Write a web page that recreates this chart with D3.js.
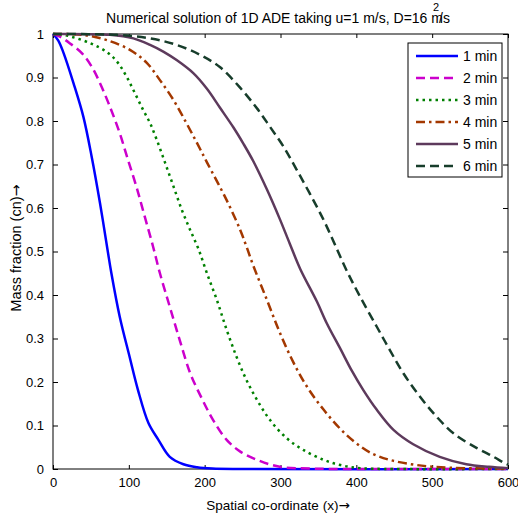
<!DOCTYPE html>
<html>
<head>
<meta charset="utf-8">
<script src="https://cdn.jsdelivr.net/npm/d3@7"></script>
<style>
  body { margin: 0; background: #fff; }
  text { font-family: "Liberation Sans", Arial, sans-serif; }
</style>
</head>
<body>
<div id="chart"></div>
<script>
// values, [x, c] pairs per curve
var min1 = [[0,1],[7,0.985],[14,0.956],[27,0.887],[40,0.81],[51,0.718],[62,0.611],[72,0.503],[77,0.45],[88,0.35],[101,0.258],[112,0.182],[126,0.105],[139,0.067],[154,0.028],[172,0.011],[190,0.004],[210,0.001],[250,0],[600,0]];
var min2 = [[0,1],[9,0.994],[22,0.979],[38,0.956],[51,0.925],[62,0.887],[75,0.833],[88,0.772],[99,0.71],[110,0.649],[121,0.58],[132,0.511],[141,0.45],[154,0.373],[167,0.297],[181,0.22],[196,0.163],[211,0.113],[229,0.067],[247,0.04],[269,0.021],[299,0.005],[340,0.001],[400,0],[600,0]];
var min3 = [[0,1],[14,0.998],[49,0.979],[73,0.956],[86,0.933],[97,0.902],[108,0.864],[119,0.825],[128,0.795],[137,0.756],[148,0.703],[159,0.649],[170,0.595],[181,0.549],[192,0.505],[203,0.45],[216,0.389],[229,0.32],[242,0.258],[255,0.205],[269,0.159],[286,0.113],[308,0.071],[330,0.044],[357,0.021],[379,0.009],[405,0.002],[450,0],[600,0]];
var min4 = [[0,1],[40,0.998],[71,0.986],[102,0.963],[124,0.933],[141,0.894],[159,0.848],[176,0.795],[190,0.749],[203,0.705],[229,0.618],[247,0.549],[255,0.512],[264,0.468],[282,0.389],[299,0.314],[317,0.245],[335,0.189],[357,0.136],[379,0.092],[398,0.062],[418,0.038],[444,0.021],[480,0.009],[524,0.003],[600,0.001]];
var min5 = [[0,1],[75,0.998],[106,0.99],[128,0.975],[146,0.959],[163,0.94],[185,0.91],[203,0.874],[220,0.831],[238,0.785],[251,0.748],[264,0.708],[282,0.643],[299,0.575],[312,0.519],[326,0.46],[348,0.385],[361,0.335],[379,0.276],[394,0.226],[409,0.182],[427,0.136],[449,0.09],[475,0.057],[510,0.028],[545,0.011],[575,0.005],[600,0.002]];
var min6 = [[0,1],[84,0.998],[128,0.99],[163,0.975],[194,0.952],[220,0.924],[247,0.876],[269,0.829],[286,0.787],[304,0.741],[321,0.689],[339,0.632],[357,0.572],[372,0.515],[387,0.457],[405,0.396],[427,0.327],[444,0.274],[462,0.22],[484,0.166],[506,0.12],[528,0.082],[559,0.048],[581,0.028],[594,0.015],[600,0.01]];

var seriesNames = ["1 min", "2 min", "3 min", "4 min", "5 min", "6 min"];
var xTicks = [0, 100, 200, 300, 400, 500, 600];
var yTicks = [0, 0.1, 0.2, 0.3, 0.4, 0.5, 0.6, 0.7, 0.8, 0.9, 1];

var width = 518,
    height = 518;
var margin = {left: 53, right: 10, top: 34, bottom: 49};

var svg = d3.select("#chart")
    .append("svg")
    .attr("width", width)
    .attr("height", height);

var x = d3.scaleLinear().domain([0, 600]).range([margin.left, width - margin.right]);
var y = d3.scaleLinear().domain([0, 1]).range([height - margin.bottom, margin.top]);

var styles = [
    {color: "#0000ff", dash: null},
    {color: "#cc00cc", dash: "9,5"},
    {color: "#008000", dash: "2.5,4"},
    {color: "#a33800", dash: "9,4,2.5,4"},
    {color: "#5d3a5c", dash: null},
    {color: "#173d2b", dash: "9,5"}
];
var series = [min1, min2, min3, min4, min5, min6];

// axes, matlab style box with inward ticks
var tickFont = "13px";
svg.append("g")
    .attr("transform", "translate(0," + y(0) + ")")
    .call(d3.axisBottom(x).tickValues(xTicks).tickSize(-4).tickPadding(9))
    .call(function(g) { g.select(".domain").remove(); });
svg.append("g")
    .attr("transform", "translate(0," + y(1) + ")")
    .call(d3.axisTop(x).tickValues(xTicks).tickSize(-4).tickFormat(""))
    .call(function(g) { g.select(".domain").remove(); });
svg.append("g")
    .attr("transform", "translate(" + x(0) + ",0)")
    .call(d3.axisLeft(y).tickValues(yTicks).tickSize(-5).tickPadding(9).tickFormat(function(d) { return d3.format("~g")(d); }))
    .call(function(g) { g.select(".domain").remove(); });
svg.append("g")
    .attr("transform", "translate(" + x(600) + ",0)")
    .call(d3.axisRight(y).tickValues(yTicks).tickSize(-5).tickFormat(""))
    .call(function(g) { g.select(".domain").remove(); });

svg.selectAll(".tick text")
    .style("font-size", tickFont)
    .style("font-family", "'Liberation Sans', Arial, sans-serif")
    .attr("fill", "#000");
svg.selectAll(".tick line").attr("stroke", "#000");

svg.append("rect")
    .attr("x", x(0))
    .attr("y", y(1))
    .attr("width", x(600) - x(0))
    .attr("height", y(0) - y(1))
    .attr("fill", "none")
    .attr("stroke", "#000")
    .attr("stroke-width", 1);

// curves
var line = d3.line()
    .x(function(d) { return x(d[0]); })
    .y(function(d) { return y(d[1]); })
    .curve(d3.curveCatmullRom.alpha(0.5));

svg.append("g")
    .selectAll("path")
    .data(series)
    .enter()
    .append("path")
    .attr("d", line)
    .attr("fill", "none")
    .attr("stroke", function(d, i) { return styles[i].color; })
    .attr("stroke-width", 2.5)
    .attr("stroke-dasharray", function(d, i) { return styles[i].dash; });

// legend
var legend = svg.append("g").attr("transform", "translate(408,43)");
legend.append("rect")
    .attr("width", 94)
    .attr("height", 134)
    .attr("fill", "#fff")
    .attr("stroke", "#000")
    .attr("stroke-width", 1);
var items = legend.selectAll("g.item")
    .data(seriesNames)
    .enter()
    .append("g")
    .attr("class", "item")
    .attr("transform", function(d, i) { return "translate(0," + (13 + i * 22) + ")"; });
items.append("line")
    .attr("x1", 8).attr("x2", 50)
    .attr("stroke", function(d, i) { return styles[i].color; })
    .attr("stroke-width", 2.5)
    .attr("stroke-dasharray", function(d, i) { return styles[i].dash; });
items.append("text")
    .attr("x", 55)
    .attr("dy", "0.36em")
    .style("font-size", "14px")
    .text(function(d) { return d; });

// title and axis labels
var title = svg.append("text")
    .attr("x", 278)
    .attr("y", 23)
    .attr("text-anchor", "middle")
    .style("font-size", "14px");
title.append("tspan").text("Numerical solution of 1D ADE taking u=1 m/s, D=16 m");
title.append("tspan").attr("dx", -10).attr("dy", -12).style("font-size", "11px").text("2");
title.append("tspan").attr("dy", 12).text("/s");

var xLabel = svg.append("text")
    .attr("x", 278)
    .attr("y", 510)
    .attr("text-anchor", "middle")
    .style("font-size", "13.5px");
xLabel.append("tspan").text("Spatial co-ordinate (x)");
xLabel.append("tspan").style("font-family", "'DejaVu Sans'").text("\u2192");

var yLabel = svg.append("text")
    .attr("transform", "translate(21,248) rotate(-90)")
    .attr("text-anchor", "middle")
    .style("font-size", "14.5px");
yLabel.append("tspan").text("Mass fraction (cn)");
yLabel.append("tspan").style("font-family", "'DejaVu Sans'").text("\u2192");
</script>
</body>
</html>
